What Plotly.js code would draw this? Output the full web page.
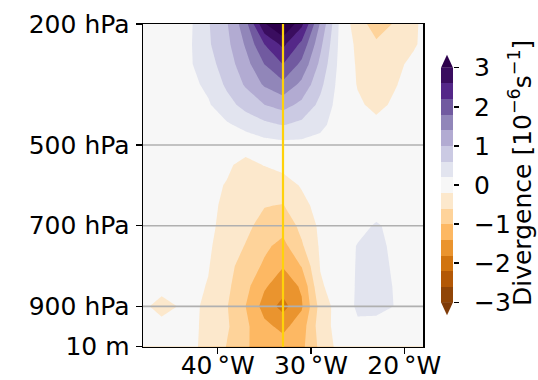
<!DOCTYPE html>
<html><head><meta charset="utf-8">
<script src="https://cdn.plot.ly/plotly-3.0.1.min.js"></script>
<style>html,body{margin:0;padding:0;background:#fff}#chart{width:538px;height:380px}</style>
</head><body><div id="chart"></div>
<script>
// ---- data ----
const lons = [-49,-46,-43,-41,-39,-37,-35,-33,-31,-29,-27,-25,-23,-21,-19,-17];
const pressures = [200,250,300,350,400,450,500,550,600,650,700,750,800,850,900,950,1000];
const divergence = [
  [ 0.00, 0.06, 0.13, 0.57, 0.97, 1.65, 2.95, 3.50, 2.70, 1.35, 0.18,-0.45,-0.75,-0.57,-0.30, 0.10],
  [ 0.00, 0.06, 0.15, 0.55, 0.90, 1.45, 2.20, 2.70, 2.10, 1.10, 0.15,-0.30,-0.55,-0.42,-0.25, 0.00],
  [ 0.00, 0.05, 0.15, 0.45, 0.80, 1.25, 1.80, 2.20, 1.70, 0.90, 0.12,-0.25,-0.42,-0.30,-0.10, 0.00],
  [ 0.00, 0.04, 0.10, 0.28, 0.68, 1.05, 1.45, 1.70, 1.30, 0.70, 0.08,-0.22,-0.36,-0.22,-0.08, 0.00],
  [ 0.00, 0.03, 0.08, 0.16, 0.45, 0.75, 1.00, 1.15, 0.90, 0.50, 0.05,-0.15,-0.28,-0.15,-0.05, 0.00],
  [ 0.00, 0.02, 0.05, 0.08, 0.15, 0.32, 0.50, 0.62, 0.50, 0.30, 0.02,-0.06,-0.12,-0.08,-0.03, 0.00],
  [ 0.00, 0.00, 0.00, 0.00,-0.03,-0.05, 0.03, 0.07, 0.08, 0.05, 0.00,-0.02,-0.03,-0.02, 0.00, 0.00],
  [ 0.00,-0.01,-0.05,-0.10,-0.15,-0.30,-0.19,-0.10,-0.05, 0.00, 0.00, 0.00, 0.00, 0.00, 0.00, 0.00],
  [ 0.00,-0.02,-0.07,-0.12,-0.22,-0.40,-0.42,-0.35,-0.17,-0.03, 0.00, 0.02, 0.02, 0.00, 0.00, 0.00],
  [ 0.00,-0.02,-0.08,-0.12,-0.27,-0.48,-0.58,-0.62,-0.30,-0.08, 0.00, 0.02, 0.04, 0.02, 0.00, 0.00],
  [ 0.00,-0.02,-0.08,-0.12,-0.32,-0.50,-0.75,-0.85,-0.50,-0.12, 0.00, 0.08, 0.24, 0.10, 0.02, 0.00],
  [ 0.00,-0.03,-0.08,-0.15,-0.38,-0.62,-0.92,-1.12,-0.65,-0.15, 0.00, 0.22, 0.30, 0.12, 0.02, 0.00],
  [ 0.00,-0.04,-0.10,-0.18,-0.47,-0.78,-1.06,-1.38,-0.98,-0.18, 0.00, 0.23, 0.32, 0.15, 0.03, 0.00],
  [ 0.00,-0.05,-0.10,-0.22,-0.52,-0.88,-1.35,-1.62,-1.35,-0.25,-0.02, 0.24, 0.32, 0.18, 0.04, 0.00],
  [ 0.00,-0.35,-0.08,-0.30,-0.58,-1.00,-1.55,-1.95,-1.45,-0.45,-0.02, 0.25, 0.33, 0.19, 0.05, 0.00],
  [ 0.00,-0.06,-0.12,-0.28,-0.55,-0.92,-1.30,-1.50,-1.20,-0.40,-0.05, 0.15, 0.05, 0.02, 0.00, 0.00],
  [ 0.00,-0.05,-0.12,-0.30,-0.62,-0.95,-1.20,-1.22,-1.10,-0.50,-0.08, 0.05, 0.02, 0.00, 0.00, 0.00]
];
const levels = [-3,-2.6,-2.2,-1.8,-1.4,-1,-0.6,-0.2,0.2,0.6,1,1.4,1.8,2.2,2.6,3];
const yTickVals = [200,500,700,900,1000];
const yTickText = ["200 hPa","500 hPa","700 hPa","900 hPa","10 m"];
const xTickVals = [-40,-30,-20];
const xTickText = ["40\u2009°W","30\u2009°W","20\u2009°W"];
const cbTickVals = [-3,-2,-1,0,1,2,3];
const cbTickText = ["\u22123","\u22122","\u22121","0","1","2","3"];
const gridLevels = [500,700,900];
const markerLon = [-33];
const cbLabel = "Divergence [10<sup>\u22126</sup>s<sup>\u22121</sup>]";

// ---- style ----
const PuOr = ['#7f3b08','#b35806','#e08214','#fdb863','#fee0b6','#f7f7f7','#d8daeb','#b2abd2','#8073ac','#542788','#2d004b'];
const lo = levels[0], hi = levels[levels.length-1], step = levels[1]-levels[0];
const span = (hi - lo) + step; // plotly contour colour domain
const contourScale = [[0, PuOr[0]]]
  .concat(PuOr.map((c,k)=>[((lo + (hi-lo)*k/10) - (lo - step/2))/span, c]))
  .concat([[1, PuOr[10]]]);
const barScale = PuOr.map((c,k)=>[k/10, c]);
const bandMid = levels.slice(0,-1).map((l,i)=>[(l+levels[i+1])/2]);
const ext = 0.055*(hi-lo);

const FONT = 'DejaVu Sans, sans-serif';
const FS = 25;

const traces = [
  {type:'contour', x:lons, y:pressures, z:divergence, autocontour:false,
   contours:{start:lo, end:hi, size:step, coloring:'fill', showlines:false},
   line:{width:0, smoothing:0}, colorscale:contourScale, showscale:false, hoverinfo:'skip'},
  {type:'heatmap', xaxis:'x2', yaxis:'y2', x:[0,1], y:levels, z:bandMid,
   zmin:lo, zmax:hi, colorscale:barScale, showscale:false, hoverinfo:'skip'}
];

const shapes = [];
gridLevels.forEach(p=>shapes.push({type:'line', xref:'x domain', x0:0, x1:1, yref:'y', y0:p, y1:p,
  line:{color:'#b0b0b0', width:1.6}, layer:'above'}));
markerLon.forEach(l=>shapes.push({type:'line', xref:'x', x0:l, x1:l, yref:'y domain', y0:0, y1:1,
  line:{color:'#ffd20a', width:2.2}, layer:'above'}));
shapes.push({type:'path', xref:'x2', yref:'y2', path:`M 0 ${hi} L 1 ${hi} L 0.5 ${hi+ext} Z`,
  fillcolor:PuOr[10], line:{width:0}});
shapes.push({type:'path', xref:'x2', yref:'y2', path:`M 0 ${lo} L 1 ${lo} L 0.5 ${lo-ext} Z`,
  fillcolor:PuOr[0], line:{width:0}});

const axCommon = {ticks:'outside', tickcolor:'black', tickwidth:1.5, showgrid:false, zeroline:false,
  tickfont:{family:FONT, size:FS, color:'black'}};

const layout = {
  width:538, height:380, margin:{l:0,r:0,t:0,b:0},
  paper_bgcolor:'white', plot_bgcolor:'white', showlegend:false,
  font:{family:FONT, size:FS, color:'black'},
  xaxis:Object.assign({}, axCommon, {domain:[143/538, 423/538], range:[-48,-18],
    tickmode:'array', tickvals:xTickVals, ticktext:xTickText, ticklen:6, ticklabelstandoff:-10,
    showline:true, mirror:true, linecolor:'black', linewidth:1.5}),
  yaxis:Object.assign({}, axCommon, {domain:[33.3/380, 356/380], range:[1000,200],
    tickmode:'array', tickvals:yTickVals, ticktext:yTickText, ticklen:6, ticklabelstandoff:1,
    showline:true, mirror:true, linecolor:'black', linewidth:1.5}),
  xaxis2:{domain:[441/538, 453/538], range:[0,1], visible:false, anchor:'y2', fixedrange:true},
  yaxis2:Object.assign({}, axCommon, {domain:[64/380, 326/380], range:[-3.35,3.35], anchor:'x2', side:'right',
    tickmode:'array', tickvals:cbTickVals, ticktext:cbTickText, ticklen:5, ticklabelstandoff:10,
    showline:false}),
  annotations:[{text:cbLabel, xref:'paper', yref:'paper', x:520/538, y:(380-173)/380,
    xanchor:'center', yanchor:'middle', textangle:-90, showarrow:false,
    font:{family:FONT, size:25, color:'black'}}],
  shapes:shapes
};

Plotly.newPlot('chart', traces, layout, {displayModeBar:false, staticPlot:true});
</script>
</body></html>
